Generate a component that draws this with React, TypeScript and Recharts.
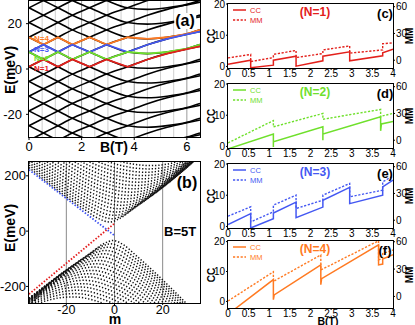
import React from "react"
import { LineChart, Line, XAxis, YAxis, ReferenceLine } from "recharts"

const FONT = "'Liberation Sans', Arial, Helvetica, sans-serif"

// ---------- (a) energy levels vs B ----------
const A_B = [0, 0.55, 1.1, 1.65, 2.3, 2.95, 3.75, 4.5, 5.25, 6.0, 6.5]

// levels rising with B
const A_UP = [
  [-57.5, -54.25, -51, -47.75, -44.5, -41.25, -38, -34.8, -32.2, -30.2, -29],
  [-51, -47.75, -44.5, -41.25, -38, -34.75, -31.5, -28.3, -25.7, -23.7, -22.5],
  [-44.5, -41.25, -38, -34.75, -31.5, -28.25, -25, -21.8, -19.2, -17.2, -16],
  [-38, -34.75, -31.5, -28.25, -25, -21.75, -18.5, -15.3, -12.7, -10.7, -9.5],
  [-31.5, -28.25, -25, -21.75, -18.5, -15.25, -12, -8.8, -6.2, -4.2, -3],
  [-25, -21.75, -18.5, -15.25, -12, -8.75, -5.5, -2.3, 0.3, 2.3, 3.5],
  [-18.5, -15.25, -12, -8.75, -5.5, -2.25, 1, 4.2, 6.8, 8.8, 10],
  [-12, -8.75, -5.5, -2.25, 1, 4.25, 7.5, 10.7, 13.3, 15.3, 16.5],
  [-5.5, -2.25, 1, 4.25, 7.5, 10.75, 14, 17.2, 19.8, 21.8, 23],
  [1, 4.25, 7.5, 10.75, 14, 17.25, 20.5, 23.7, 26.3, 28.3, 29.5],
  [7.5, 10.75, 14, 17.25, 20.5, 23.75, 27, 30.2, 32.8, 34.8, 36],
  [14, 17.25, 20.5, 23.75, 27, 30.25, 33.5, 36.7, 39.3, 41.3, 42.5],
  [20.5, 23.75, 27, 30.25, 33.5, 36.75, 40, 43.2, 45.8, 47.8, 49],
  [27, 30.25, 33.5, 36.75, 40, 43.25, 46.5, 49.7, 52.3, 54.3, 55.5],
]

// levels falling with B (turning up again at high field)
const A_DOWN = [
  [-25, -28.25, -31.5, -34.75, -38, -41.25, -44.5, -45.2, -44.5, -43, -41.2],
  [-18.5, -21.75, -25, -28.25, -31.5, -34.75, -38, -38.7, -38, -36.5, -34.7],
  [-12, -15.25, -18.5, -21.75, -25, -28.25, -31.5, -32.2, -31.5, -30, -28.2],
  [-5.5, -8.75, -12, -15.25, -18.5, -21.75, -25, -25.7, -25, -23.5, -21.7],
  [1, -2.25, -5.5, -8.75, -12, -15.25, -18.5, -19.2, -18.5, -17, -15.2],
  [7.5, 4.25, 1, -2.25, -5.5, -8.75, -12, -12.7, -12, -10.5, -8.7],
  [14, 10.75, 7.5, 4.25, 1, -2.25, -5.5, -6.2, -5.5, -4, -2.2],
  [20.5, 17.25, 14, 10.75, 7.5, 4.25, 1, 0.3, 1, 2.5, 4.3],
  [27, 23.75, 20.5, 17.25, 14, 10.75, 7.5, 6.8, 7.5, 9, 10.8],
  [33.5, 30.25, 27, 23.75, 20.5, 17.25, 14, 13.3, 14, 15.5, 17.3],
  [40, 36.75, 33.5, 30.25, 27, 23.75, 20.5, 19.8, 20.5, 22, 23.8],
  [46.5, 43.25, 40, 36.75, 33.5, 30.25, 27, 26.3, 27, 28.5, 30.3],
]

const A_N1 = [1, 4.25, 1, 4.25, 1, 4.25, 1, 4.2, 6.8, 8.8, 10]
const A_N2 = [7.5, 4.25, 7.5, 4.25, 7.5, 4.25, 7.5, 6.8, 7.5, 9, 10.8]
const A_N3 = [7.5, 10.75, 7.5, 10.75, 7.5, 10.75, 7.5, 10.7, 13.3, 15.3, 16.5]
const A_N4 = [14, 10.75, 14, 10.75, 14, 10.75, 14, 13.3, 14, 15.5, 17.3]

const A_GRID_LIGHT = [0.5, 1, 1.5, 2.5, 3, 3.5, 4.5, 5, 5.5]
const A_GRID_DARK = [2, 4, 6]

// ---------- (b) E vs m at B=5T ----------
const B_UPPER: [number, number][][] = [
  [[-35.5, 230.2], [-12, 75.6], [-6, 42.8], [-2, 33], [2, 44.9], [8, 82.9], [35.5, 301]],
  [[-35.5, 238.9], [-11, 81.5], [-5, 52.6], [-1, 45], [3, 54.3], [9, 88.3], [35.5, 295]],
  [[-35.5, 248], [-10, 88.7], [-4, 63.2], [0, 57], [4, 64.6], [10, 95], [35.5, 290]],
  [[-35.5, 257.6], [-9, 96.9], [-3, 74.2], [1, 69], [5, 75.4], [11, 102.6], [35.5, 285]],
  [[-35.5, 267.6], [-8, 105.8], [-2, 85.4], [2, 81], [6, 86.5], [12, 111.1], [35.5, 280]],
  [[-35.5, 277.8], [-7, 115.2], [-1, 96.9], [3, 93], [7, 97.8], [13, 120.1], [35.5, 277]],
  [[-35.5, 288.4], [-6, 125.1], [0, 108.5], [4, 105], [8, 109.3], [14, 129.6], [35.5, 274]],
  [[-35.5, 299], [-5, 135.3], [1, 120.1], [5, 117], [9, 120.9], [15, 139.5], [35.5, 273]],
  [[-35.5, 310.3], [-4, 145.8], [2, 131.8], [6, 129], [10, 132.5], [16, 149.7], [35.5, 272]],
  [[-35.5, 321.6], [-3, 156.5], [3, 143.6], [7, 141], [11, 144.2], [17, 160.2], [35.5, 271]],
  [[-35.5, 333], [-2, 167.4], [4, 155.4], [8, 153], [12, 156], [18, 170.8], [35.5, 272]],
  [[-35.5, 344.7], [-1, 178.5], [5, 167.2], [9, 165], [13, 167.8], [19, 181.7], [35.5, 273]],
  [[-35.5, 356.5], [0, 189.6], [6, 179.1], [10, 177], [14, 179.6], [20, 192.6], [35.5, 276]],
  [[-35.5, 368.4], [1, 200.9], [7, 191], [11, 189], [15, 191.4], [21, 203.7], [35.5, 279]],
  [[-35.5, 380.4], [2, 212.2], [8, 202.8], [12, 201], [16, 203.3], [22, 214.9], [35.5, 282]],
  [[-35.5, 392.6], [3, 223.6], [9, 214.7], [13, 213], [17, 215.2], [23, 226.2], [35.5, 287]],
  [[-35.5, 404.6], [4, 235], [10, 226.6], [14, 225], [18, 227], [24, 237.5], [35.5, 292]],
  [[-35.5, 416.8], [5, 246.6], [11, 238.6], [15, 237], [19, 238.9], [25, 248.9], [35.5, 298]],
]

const B_LOWER: [number, number][][] = [
  [[-35.5, -268], [-10.5, -83.3], [-4.5, -45.6], [-0.5, -34], [3.5, -48.4], [9.5, -92.5], [35.5, -311.5]],
  [[-35.5, -262.5], [-11.5, -88.8], [-5.5, -55.1], [-1.5, -46], [2.5, -57.4], [8.5, -97.5], [35.5, -321.5]],
  [[-35.5, -257.4], [-12.5, -95.6], [-6.5, -65.5], [-2.5, -58], [1.5, -67.4], [7.5, -103.7], [35.5, -332]],
  [[-35.5, -253.1], [-13.5, -103.3], [-7.5, -76.3], [-3.5, -70], [0.5, -78], [6.5, -110.9], [35.5, -342.6]],
  [[-35.5, -249.5], [-14.5, -111.8], [-8.5, -87.5], [-4.5, -82], [-0.5, -88.9], [5.5, -118.8], [35.5, -353.6]],
  [[-35.5, -246.6], [-15.5, -120.9], [-9.5, -98.8], [-5.5, -94], [-1.5, -100.1], [4.5, -127.4], [35.5, -365]],
  [[-35.5, -244.6], [-16.5, -130.4], [-10.5, -110.3], [-6.5, -106], [-2.5, -111.4], [3.5, -136.5], [35.5, -376]],
  [[-35.5, -243.3], [-17.5, -140.4], [-11.5, -121.9], [-7.5, -118], [-3.5, -122.9], [2.5, -146], [35.5, -388]],
  [[-35.5, -242.9], [-18.5, -150.6], [-12.5, -133.5], [-8.5, -130], [-4.5, -134.5], [1.5, -155.9], [35.5, -400]],
  [[-35.5, -243.3], [-19.5, -161.1], [-13.5, -145.2], [-9.5, -142], [-5.5, -146.1], [0.5, -166], [35.5, -412]],
  [[-35.5, -244.6], [-20.5, -171.7], [-14.5, -157], [-10.5, -154], [-6.5, -157.8], [-0.5, -176.4], [35.5, -424.5]],
  [[-35.5, -246.6], [-21.5, -182.6], [-15.5, -168.8], [-11.5, -166], [-7.5, -169.5], [-1.5, -187], [35.5, -437]],
  [[-35.5, -249.5], [-22.5, -193.5], [-16.5, -180.6], [-12.5, -178], [-8.5, -181.3], [-2.5, -197.7], [35.5, -449]],
  [[-35.5, -253.1], [-23.5, -204.6], [-17.5, -192.4], [-13.5, -190], [-9.5, -193.1], [-3.5, -208.6], [35.5, -461]],
  [[-35.5, -257.4], [-24.5, -215.8], [-18.5, -204.3], [-14.5, -202], [-10.5, -204.9], [-4.5, -219.5], [35.5, -473]],
  [[-35.5, -262.5], [-25.5, -227.1], [-19.5, -216.1], [-15.5, -214], [-11.5, -216.7], [-5.5, -230.6], [35.5, -486]],
  [[-35.5, -268.2], [-26.5, -238.4], [-20.5, -228], [-16.5, -226], [-12.5, -228.6], [-6.5, -241.8], [35.5, -500]],
  [[-35.5, -274.5], [-27.5, -249.8], [-21.5, -239.9], [-17.5, -238], [-13.5, -240.5], [-7.5, -253], [35.5, -512]],
]

const B_RED: [number, number][] = [[-35.5, -228], [0.3, 30]]
const B_BLUE: [number, number][] = [[-35.5, 222], [0.3, -18]]

// ---------- (c)-(f) CC and MM vs B ----------
const B_TICKS = [0, 0.5, 1, 1.5, 2, 2.5, 3, 3.5, 4]

const C_B = [0, 0.55, 0.55, 1.1, 1.1, 1.65, 1.65, 2.3, 2.3, 2.95, 2.95, 3.75, 3.75, 4]
const C_CC = [0.7, 2.0, -0.4, 0.4, 2.0, 3.3, 0.1, 1.8, 3.3, 4.7, 1.8, 3.4, 4.4, 5.5]
const C_MM = [2.6, 6.5, -1.5, 3, 6.5, 11, 3, 7.5, 11.5, 16, 8, 11.5, 18.5, 19.5]

const D_CC_B = [0, 1.1, 1.1, 1.1, 2.3, 2.3, 2.3, 3.7, 3.7, 3.72, 4]
const D_CC = [-0.8, 4.0, -0.2, 1.5, 6.3, 2.0, 4.0, 9.5, 5.0, 7.2, 8.0]
const D_MM_B = [0, 1.1, 1.1, 2.3, 2.3, 3.7, 3.7, 3.72, 4]
const D_MM = [-3, 22, 15, 30, 23.5, 34.5, 26, 27, 30]

const E_B = [0, 0.55, 0.55, 1.1, 1.1, 1.65, 1.65, 2.3, 2.3, 2.95, 2.95, 3.75, 3.75, 4]
const E_CC = [0.6, 4.1, -0.5, 2.5, 4.3, 7.8, 2.8, 6.2, 8.4, 12.5, 7.3, 10, 12.7, 14.8]
const E_MM = [4.5, 15, -1.9, 9.4, 16.9, 28.1, 13.1, 22.5, 28.1, 41.2, 26.2, 33.7, 43.1, 49.5]

const F_CC_B = [0, 1.1, 1.1, 1.12, 2.25, 2.25, 2.27, 3.65, 3.65, 3.75, 3.75, 4]
const F_CC = [-4.3, 7.3, 0.6, 2.2, 12.2, 5.6, 7.6, 18.9, 12.2, 12.5, 14.2, 15.6]
const F_MM_B = [0, 1.1, 1.1, 2.25, 2.25, 3.65, 3.65, 3.75, 3.75, 4]
const F_MM = [-5, 27, 16.5, 45.5, 29, 61, 40, 42, 47, 51]

const RED = "#e3201b"
const GREEN = "#6fe02c"
const BLUE = "#4458f2"
const ORANGE = "#ff7a22"

const txt = (extra: React.CSSProperties): React.CSSProperties => ({
  position: "absolute",
  fontFamily: FONT,
  whiteSpace: "nowrap",
  lineHeight: 1,
  ...extra,
})

function Label({ x, y, children, size, color = "#000", bold = true, rotate = false, bg, lh = 1 }: any) {
  return (
    <div
      style={txt({
        left: x,
        top: y,
        fontSize: size,
        color,
        lineHeight: lh,
        fontWeight: bold ? 700 : 400,
        transform: `translate(-50%, -50%)${rotate ? " rotate(-90deg)" : ""}`,
        background: bg,
        padding: bg ? "0 1px" : 0,
      })}
    >
      {children}
    </div>
  )
}

function Frame({ left, top, width, height, w = 1.5 }: any) {
  return (
    <div
      style={{
        position: "absolute",
        left: left - w / 2,
        top: top - w / 2,
        width: width + w,
        height: height + w,
        border: `${w}px solid #000`,
        boxSizing: "border-box",
      }}
    />
  )
}

const toA = (row: number[]) => row.map((e, i) => ({ b: A_B[i], e }))
const toPts = (pts: [number, number][]) => pts.map(([m, e]) => ({ m, e }))
const toXY = (xs: number[], ys: number[]) => xs.map((x, i) => ({ x, y: ys[i] }))

function PanelA() {
  const tick = { fontSize: 13, fill: "#000", fontFamily: FONT }
  return (
    <div style={{ position: "absolute", left: 0, top: 0 }}>
      <LineChart width={205} height={157} margin={{ top: 1, right: 5, bottom: 5, left: 3 }}>
        <XAxis type="number" dataKey="b" domain={[0, 6.5]} ticks={[0, 2, 4, 6]} interval={0}
          allowDataOverflow height={15} tickSize={3} tickMargin={2} axisLine={false}
          tickLine={{ stroke: "#000" }} tick={tick} />
        <YAxis type="number" dataKey="e" domain={[-30, 30]} ticks={[-20, 0, 20]} interval={0}
          allowDataOverflow width={26} tickSize={3} tickMargin={4} axisLine={false}
          tickLine={{ stroke: "#000" }} tick={tick} />
        {A_GRID_LIGHT.map((x) => (
          <ReferenceLine key={"gl" + x} x={x} stroke="#cfcfcf" strokeWidth={1} />
        ))}
        {A_GRID_DARK.map((x) => (
          <ReferenceLine key={"gd" + x} x={x} stroke="#9a9a9a" strokeWidth={1} />
        ))}
        {A_UP.map((row, i) => (
          <Line key={"u" + i} data={toA(row)} dataKey="e" type="monotone" stroke="#000"
            strokeWidth={1.6} dot={false} isAnimationActive={false} />
        ))}
        {A_DOWN.map((row, i) => (
          <Line key={"d" + i} data={toA(row)} dataKey="e" type="monotone" stroke="#000"
            strokeWidth={1.6} dot={false} isAnimationActive={false} />
        ))}
        <Line data={toA(A_N4)} dataKey="e" type="linear" stroke={ORANGE} strokeWidth={1.8} dot={false} isAnimationActive={false} />
        <Line data={toA(A_N3)} dataKey="e" type="linear" stroke={BLUE} strokeWidth={1.8} dot={false} isAnimationActive={false} />
        <Line data={toA(A_N2)} dataKey="e" type="linear" stroke={GREEN} strokeWidth={1.8} dot={false} isAnimationActive={false} />
        <Line data={toA(A_N1)} dataKey="e" type="linear" stroke={RED} strokeWidth={1.8} dot={false} isAnimationActive={false} />
      </LineChart>
    </div>
  )
}

function PanelB() {
  const tick = { fontSize: 13, fill: "#000", fontFamily: FONT }
  const dots = "1.3 1.9"
  return (
    <div style={{ position: "absolute", left: 0, top: 158 }}>
      <LineChart width={205} height={166} margin={{ top: 4, right: 5, bottom: 5, left: 3 }}>
        <XAxis type="number" dataKey="m" domain={[-35.5, 35.5]} ticks={[-20, 0, 20]} interval={0}
          allowDataOverflow height={16} tickSize={2} tickMargin={0} axisLine={false}
          tickLine={{ stroke: "#000" }} tick={{ ...tick, fontSize: 12.5 }} />
        <YAxis type="number" dataKey="e" domain={[-260, 250]} ticks={[-200, 0, 200]} interval={0}
          allowDataOverflow width={26} tickSize={3} tickMargin={0} axisLine={false}
          tickLine={{ stroke: "#000" }} tick={tick} />
        {[-20, 0, 20].map((x) => (
          <ReferenceLine key={"r" + x} x={x} stroke="#8a8a8a" strokeWidth={1} />
        ))}
        {B_UPPER.map((pts, i) => (
          <Line key={"bu" + i} data={toPts(pts)} dataKey="e" type="monotone" stroke="#111"
            strokeWidth={1.5} strokeDasharray={dots} dot={false} isAnimationActive={false} />
        ))}
        {B_LOWER.map((pts, i) => (
          <Line key={"bl" + i} data={toPts(pts)} dataKey="e" type="monotone" stroke="#111"
            strokeWidth={1.5} strokeDasharray={dots} dot={false} isAnimationActive={false} />
        ))}
        <Line data={toPts(B_BLUE)} dataKey="e" type="linear" stroke="#3a4ff0" strokeWidth={1.8}
          strokeDasharray="1.5 1.7" dot={false} isAnimationActive={false} />
        <Line data={toPts(B_RED)} dataKey="e" type="linear" stroke="#e31b1b" strokeWidth={1.8}
          strokeDasharray="1.5 1.7" dot={false} isAnimationActive={false} />
      </LineChart>
    </div>
  )
}

function SmallPanel({ top, bottom, color, ccB, cc, mmB, mm, ccDomain, mmDomain }: any) {
  const plotH = bottom - top
  const tick = { fontSize: 10, fill: "#000", fontFamily: FONT }
  return (
    <div style={{ position: "absolute", left: 196, top: top - 4 }}>
      <LineChart width={219} height={plotH + 21} margin={{ top: 4, right: 4, bottom: 3, left: 4 }}>
        <XAxis type="number" dataKey="x" domain={[0, 4]} ticks={B_TICKS} interval={0}
          allowDataOverflow height={14} tickSize={2} tickMargin={0} axisLine={false}
          tickLine={{ stroke: "#000" }} tick={tick} />
        <YAxis yAxisId="cc" type="number" domain={ccDomain} ticks={[0, 10, 20]} interval={0}
          allowDataOverflow width={28} tickSize={2} tickMargin={1} axisLine={false}
          tickLine={{ stroke: "#000" }} tick={tick} />
        <YAxis yAxisId="mm" orientation="right" type="number" domain={mmDomain} ticks={[0, 30, 60]}
          interval={0} allowDataOverflow width={18} tickSize={2} tickMargin={1} axisLine={false}
          tickLine={{ stroke: "#000" }} tick={tick} />
        <Line yAxisId="mm" data={toXY(mmB, mm)} dataKey="y" type="linear" stroke={color}
          strokeWidth={1.4} strokeDasharray="2.2 1.6" dot={false} isAnimationActive={false} />
        <Line yAxisId="cc" data={toXY(ccB, cc)} dataKey="y" type="linear" stroke={color}
          strokeWidth={1.5} dot={false} isAnimationActive={false} />
      </LineChart>
    </div>
  )
}

function SmallDecor({ top, bottom, color, name, tag }: any) {
  const mid = (top + bottom) / 2
  return (
    <>
      <Frame left={228} top={top} width={165} height={bottom - top} w={1.2} />
      <svg style={{ position: "absolute", left: 232, top: top + 2 }} width={16} height={18}>
        <line x1={1} y1={4} x2={14} y2={4} stroke={color} strokeWidth={1.5} />
        <line x1={1} y1={14} x2={14} y2={14} stroke={color} strokeWidth={1.4} strokeDasharray="2.2 1.6" />
      </svg>
      <div style={txt({ left: 250, top: top + 2.5, fontSize: 7.5, color })}>CC</div>
      <div style={txt({ left: 250, top: top + 12.5, fontSize: 7.5, color })}>MM</div>
      <Label x={315} y={top + 8} size={12} color={color}>{name}</Label>
      <Label x={385} y={top + 9} size={13}>{tag}</Label>
      <Label x={212} y={mid} size={10} rotate>CC</Label>
      <Label x={410} y={mid} size={10} rotate>MM</Label>
    </>
  )
}

export default function App() {
  return (
    <div
      style={{
        position: "absolute",
        left: 0,
        top: 0,
        width: 415,
        height: 325,
        overflow: "hidden",
        background: "#fff",
        fontFamily: FONT,
      }}
    >
      <PanelA />
      <Frame left={29} top={1} width={171} height={136} />
      <Label x={10} y={70} size={14} rotate>E(meV)</Label>
      <Label x={114} y={147} size={14}>B(T)</Label>
      <Label x={185} y={21} size={16} bg="#fff">(a)</Label>
      <div style={txt({ left: 34, top: 35, fontSize: 8, fontWeight: 700, color: ORANGE })}>N=4</div>
      <div style={txt({ left: 34, top: 45.5, fontSize: 8, fontWeight: 700, color: BLUE })}>N=3</div>
      <div style={txt({ left: 34, top: 54.5, fontSize: 8, fontWeight: 700, color: GREEN })}>N=2</div>
      <div style={txt({ left: 34, top: 64.5, fontSize: 8, fontWeight: 700, color: RED })}>N=1</div>

      <PanelB />
      <Frame left={29} top={162} width={171} height={141} />
      <Label x={10} y={228} size={14} rotate>E(meV)</Label>
      <Label x={115} y={320} size={14} lh={0.7}>m</Label>
      <Label x={187} y={183} size={16}>(b)</Label>
      <div style={txt({ left: 164, top: 225, fontSize: 13, fontWeight: 700 })}>B=5T</div>

      <SmallPanel top={4} bottom={68} color={RED} ccB={C_B} cc={C_CC} mmB={C_B} mm={C_MM}
        ccDomain={[-0.5, 20]} mmDomain={[-8.7, 63]} />
      <SmallDecor top={4} bottom={68} color={RED} name="(N=1)" tag="(c)" />

      <SmallPanel top={84} bottom={148} color={GREEN} ccB={D_CC_B} cc={D_CC} mmB={D_MM_B} mm={D_MM}
        ccDomain={[-0.5, 20]} mmDomain={[-8.7, 63]} />
      <SmallDecor top={84} bottom={148} color={GREEN} name="(N=2)" tag="(d)" />

      <SmallPanel top={164} bottom={228} color={BLUE} ccB={E_B} cc={E_CC} mmB={E_B} mm={E_MM}
        ccDomain={[-0.5, 20]} mmDomain={[-8.7, 63]} />
      <SmallDecor top={164} bottom={228} color={BLUE} name="(N=3)" tag="(e)" />

      <SmallPanel top={241} bottom={308} color={ORANGE} ccB={F_CC_B} cc={F_CC} mmB={F_MM_B} mm={F_MM}
        ccDomain={[-2.2, 20.2]} mmDomain={[-12.7, 60.8]} />
      <SmallDecor top={241} bottom={308} color={ORANGE} name="(N=4)" tag="(f)" />
      <Label x={328} y={320.5} size={10.5} lh={0.8}>B(T)</Label>
    </div>
  )
}
